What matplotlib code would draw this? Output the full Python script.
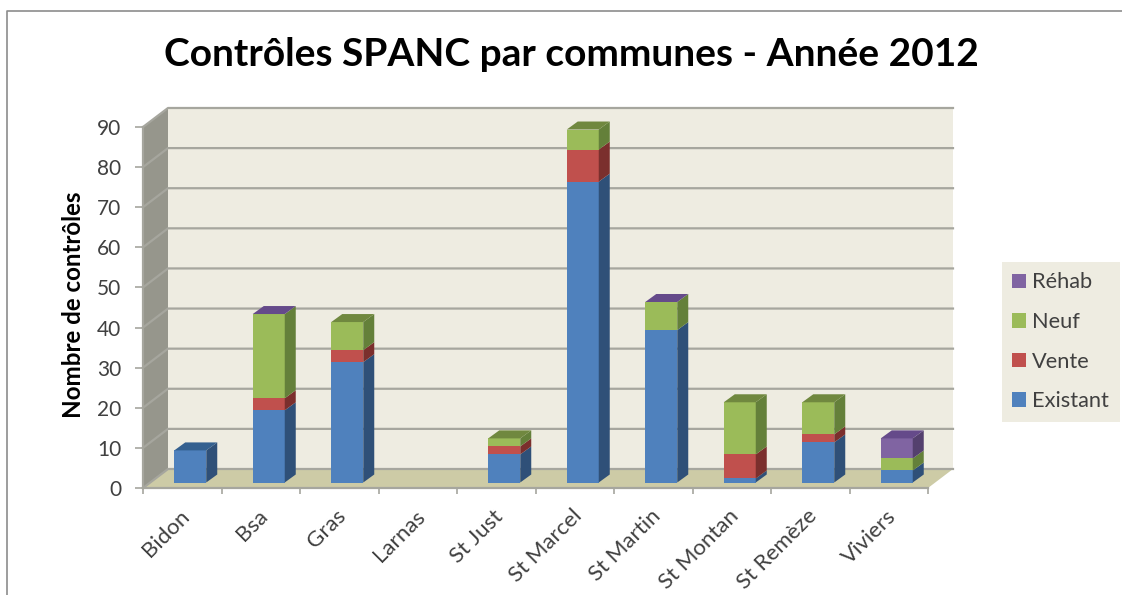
import matplotlib
matplotlib.use('Agg')
import matplotlib.pyplot as plt
from matplotlib.lines import Line2D
from matplotlib.patches import Polygon
from matplotlib.transforms import Affine2D
import numpy as np

communes = ['Bidon', 'Bsa', 'Gras', 'Larnas', 'St Just', 'St Marcel',
            'St Martin', 'St Montan', 'St Remèze', 'Viviers']
existant = [8, 18, 30, 0, 7, 75, 38, 1, 10, 3]
vente = [0, 3, 3, 0, 2, 8, 0, 6, 2, 0]
neuf = [0, 21, 7, 0, 2, 5, 7, 13, 8, 3]
# nan = empty cell, 0 = zero height but Excel still draws its top face
rehab = [np.nan, 0, np.nan, np.nan, np.nan, np.nan, 0, np.nan, np.nan, 5]
series_names = ['Existant', 'Vente', 'Neuf', 'Réhab']
y_ticks = list(range(0, 100, 10))

W, H = 1122, 595
plt.rcParams['font.family'] = ['Lato', 'DejaVu Sans']

# face, side and top colours for each series
colors = ['#4f81bd', '#c0504d', '#9bbb59', '#8064a2']
side_colors = ['#2f5078', '#7b2f2d', '#64803a', '#54406e']
top_colors = ['#34608f', '#93403d', '#70883f', '#654a8a']
wall_color = '#eeece1'
floor_color = '#cdcba6'
side_wall_color = '#96968c'
grid_color = '#a6a69e'

fig = plt.figure(figsize=(W / 100, H / 100), dpi=100, facecolor='white')
ax = fig.add_axes([143 / W, (H - 488) / H, 785 / W, 361 / H])
ax.patch.set_visible(False)
ax.set_xlim(-0.5, 9.5)
ax.set_ylim(0, 90)

# size of one pixel in data units
px_x = 1 / 78.5
px_y = 1 / 4.01
wall_dx = 25 * px_x
wall_dy = 19 * px_y
bar_dx = 11 * px_x
bar_dy = 8 * px_y
bar_width = 32 * px_x

# back wall, left wall and floor
ax.add_patch(Polygon([(-0.5 + wall_dx, wall_dy), (9.5 + wall_dx, wall_dy),
                      (9.5 + wall_dx, 90 + wall_dy), (-0.5 + wall_dx, 90 + wall_dy)],
                     facecolor=wall_color, edgecolor='none', clip_on=False, zorder=1))
ax.add_patch(Polygon([(-0.5, 0), (-0.5 + wall_dx, wall_dy),
                      (-0.5 + wall_dx, 90 + wall_dy), (-0.5, 90)],
                     facecolor=side_wall_color, edgecolor='none', clip_on=False, zorder=1))
ax.add_patch(Polygon([(-0.5, 0), (9.5, 0), (9.5 + wall_dx, wall_dy), (-0.5 + wall_dx, wall_dy)],
                     facecolor=floor_color, edgecolor='none', clip_on=False, zorder=1.5))

for v in y_ticks:
    ax.plot([-0.5, -0.5 + wall_dx, 9.5 + wall_dx], [v, v + wall_dy, v + wall_dy],
            color=grid_color, lw=1.6, clip_on=False, zorder=2)

# bars sit a little behind the front plane
shift = ax.transData + Affine2D().translate(8, 5.5)
x = np.arange(len(communes))
bottom = np.zeros(len(communes))
handles = []
all_series = [existant, vente, neuf, rehab]
# last series with a cell for each commune gives the top face colour
top_series = [max([s for s in range(4) if all_series[s][j] > 0 or all_series[s][j] == 0 and s == 3] + [0])
              for j in range(len(communes))]
for i, raw in enumerate(all_series):
    vals = np.nan_to_num(np.array(raw, dtype=float))
    bars = ax.bar(x, vals, bar_width, bottom=bottom, color=colors[i], transform=shift,
                  clip_on=False, zorder=3, label=series_names[i])
    handles.append(bars)
    top = bottom + vals
    for j in range(len(communes)):
        right = x[j] + bar_width / 2
        left = x[j] - bar_width / 2
        if vals[j] > 0:
            ax.add_patch(Polygon([(right, bottom[j]), (right + bar_dx, bottom[j] + bar_dy),
                                  (right + bar_dx, top[j] + bar_dy), (right, top[j])],
                                 facecolor=side_colors[i], edgecolor='none', transform=shift,
                                 clip_on=False, zorder=3))
        if top_series[j] == i and top[j] > 0:
            ax.add_patch(Polygon([(left, top[j]), (right, top[j]),
                                  (right + bar_dx, top[j] + bar_dy), (left + bar_dx, top[j] + bar_dy)],
                                 facecolor=top_colors[i], edgecolor='none', transform=shift,
                                 clip_on=False, zorder=3))
    bottom = top

# axes
for name in ['top', 'right']:
    ax.spines[name].set_visible(False)
for name in ['left', 'bottom']:
    ax.spines[name].set_color(grid_color)
    ax.spines[name].set_linewidth(1.6)
    ax.spines[name].set_zorder(2.5)

ax.set_yticks(y_ticks)
ax.tick_params(axis='y', length=5.8, width=1.2, color=grid_color, pad=10,
               labelsize=15, labelcolor='#404040')
ax.set_xticks(np.arange(-0.5, 10, 1))
ax.set_xticklabels([])
ax.set_xticks(x - 0.04, minor=True)
ax.set_xticklabels(communes, minor=True, rotation=45, ha='right', va='top',
                   rotation_mode='anchor', fontsize=16, color='#404040')
ax.tick_params(axis='x', which='major', length=4.5, width=1.2, color=grid_color)
ax.tick_params(axis='x', which='minor', length=0, pad=13)

ax.set_ylabel('Nombre de contrôles', fontsize=17.4, fontweight='bold', color='black')
ax.yaxis.set_label_coords((85 - 143) / 785, (488 - 305) / 361)

fig.text(571 / W, (H - 54) / H, 'Contrôles SPANC par communes - Année 2012',
         ha='center', va='center', fontsize=28, fontweight='bold', color='black')

leg = ax.legend(handles=handles[::-1], loc='upper left',
                bbox_to_anchor=(1002 / W, (H - 262) / H), bbox_transform=fig.transFigure,
                frameon=True, fancybox=False, framealpha=1, facecolor=wall_color, edgecolor='none',
                fontsize=15.7, handlelength=0.64, handleheight=0.64, handletextpad=0.27,
                labelspacing=0.9, borderaxespad=0, borderpad=0.48, labelcolor='#404040')

# chart frame, left and top edges only
fig.add_artist(Line2D([7 / W, 7 / W, 1], [0, (H - 11) / H, (H - 11) / H],
                      color='#8c8c8c', lw=1.2))

fig.savefig('out.png', dpi=100)
